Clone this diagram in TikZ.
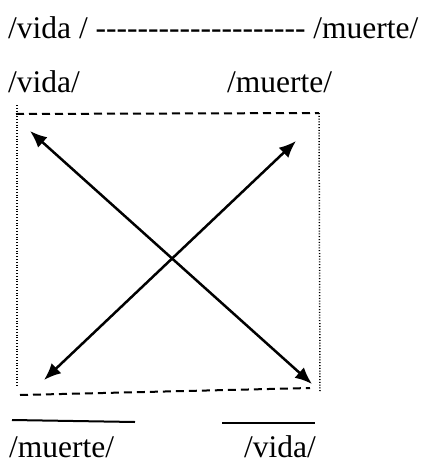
\documentclass[tikz,border=0pt]{standalone}
\usepackage{fontspec}
\setmainfont{Liberation Serif}
\usetikzlibrary{arrows.meta}
\newcommand\dsh{-{}}
\begin{document}
\begin{tikzpicture}[x=1pt,y=-1pt,
  lbl/.style={anchor=base west,inner sep=0pt,font=\fontsize{31.5}{36}\selectfont},
  dashedge/.style={line width=2pt,dash pattern=on 8pt off 5pt},
  dotedge/.style={line width=1.5pt,dash pattern=on 1pt off 1.8pt},
  arr/.style={line width=2.5pt,{Latex[length=17pt,width=14pt]}-{Latex[length=17pt,width=14pt]}},
  under/.style={line width=2pt}]
\useasboundingbox (0,0) rectangle (428,464);
\node[lbl] (t1) at (8,38) {/vida / \dsh\dsh\dsh\dsh\dsh\dsh\dsh\dsh\dsh\dsh\dsh\dsh\dsh\dsh\dsh\dsh\dsh\dsh\dsh\dsh{} /muerte/};
\node[lbl] (v) at (8,92) {/vida/};
\node[lbl] (m) at (227,92) {/muerte/};
\coordinate (tl) at (16,114);
\coordinate (tr) at (319,113);
\coordinate (dl) at (17,105);
\coordinate (dlb) at (17,387);
\coordinate (drb) at (320,391);
\coordinate (bl) at (20,395);
\coordinate (br) at (310,388);
\draw[dotedge] (dl) -- (dlb);
\draw[dotedge] (tr) -- (drb);
\draw[dashedge] (tl) -- (tr);
\draw[dashedge] (bl) -- (br);
\coordinate (a1) at (30,131);
\coordinate (a2) at (312,384);
\coordinate (b1) at (44,380);
\coordinate (b2) at (296,141);
\draw[arr] (a1) -- (a2);
\draw[arr] (b1) -- (b2);
\coordinate (u1) at (12,420);
\coordinate (u2) at (135,422);
\coordinate (u3) at (222,423);
\coordinate (u4) at (315,423);
\draw[under] (u1) -- (u2);
\draw[under] (u3) -- (u4);
\node[lbl] (bm) at (9,457) {/muerte/};
\node[lbl] (bv) at (244,457) {/vida/};
\end{tikzpicture}
\end{document}
